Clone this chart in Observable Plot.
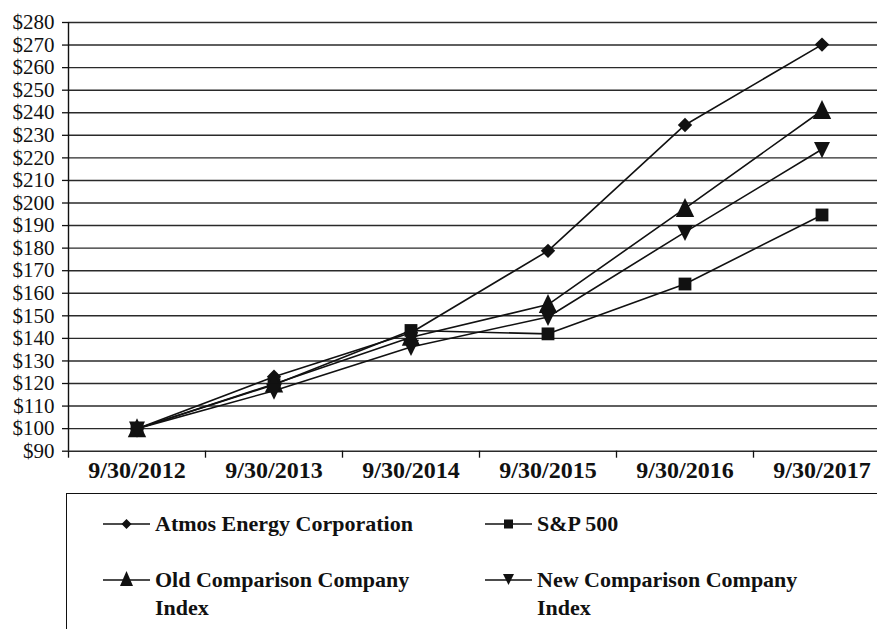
<!DOCTYPE html>
<html>
<head>
<meta charset="utf-8">
<script src="https://cdn.jsdelivr.net/npm/d3@7"></script>
<script src="https://cdn.jsdelivr.net/npm/@observablehq/plot@0.6"></script>
<style>
  html, body { margin: 0; padding: 0; background: #fff; }
  #wrap { position: relative; width: 877px; height: 629px; overflow: hidden; font-family: "Liberation Serif", "DejaVu Serif", serif; }
  #title { position: absolute; left: 0; width: 877px; top: -17px; text-align: center; font-weight: bold; font-size: 23px; line-height: 23px; padding-left: 10px; box-sizing: border-box; }
  #chart { position: absolute; left: 0; top: 0; }
  #chart svg text { font-family: "Liberation Serif", "DejaVu Serif", serif; }
  #legend { position: absolute; left: 66px; top: 493px; width: 830px; height: 160px; border: 1.5px solid #111; box-sizing: border-box; }
  .item { position: absolute; display: flex; align-items: flex-start; font-weight: bold; font-size: 22px; line-height: 28px; color: #111; }
  .item svg { flex: none; margin-right: 5px; margin-top: 0px; }
</style>
</head>
<body>
<div id="wrap">
  <div id="title">and Comparison Company Index</div>
  <div id="chart"></div>
  <div id="legend"></div>
</div>
<script>
// ---- data ----
const years = ["9/30/2012", "9/30/2013", "9/30/2014", "9/30/2015", "9/30/2016", "9/30/2017"];
const seriesNames = ["Atmos Energy Corporation", "S&P 500", "Old Comparison Company Index", "New Comparison Company Index"];
const atmos = [100, 123, 142.5, 178.8, 234.6, 270.2];
const sp500 = [100, 119.5, 143.5, 142, 164.1, 194.7];
const oldIndex = [100, 119.8, 140.5, 155, 197.6, 241];
const newIndex = [100, 116.8, 136.2, 149.5, 187.1, 223.8];
const yTicks = [90, 100, 110, 120, 130, 140, 150, 160, 170, 180, 190, 200, 210, 220, 230, 240, 250, 260, 270, 280];

const seriesValues = [atmos, sp500, oldIndex, newIndex];
const data = seriesNames.flatMap((s, k) => seriesValues[k].map((v, i) => ({series: s, i, year: years[i], value: v})));

// ---- custom symbols (k = radius passed by Plot) ----
function poly(ctx, pts) { ctx.moveTo(pts[0][0], pts[0][1]); for (let j = 1; j < pts.length; j++) ctx.lineTo(pts[j][0], pts[j][1]); ctx.closePath(); }
const rad = size => Math.sqrt(size / Math.PI);
const symDiamond = {draw(ctx, size) { const k = rad(size) * 0.72; poly(ctx, [[0, -k], [k, 0], [0, k], [-k, 0]]); }};
const symSquare = {draw(ctx, size) { const k = rad(size) * 0.64; poly(ctx, [[-k, -k], [k, -k], [k, k], [-k, k]]); }};
const symTriUp = {draw(ctx, size) { const k = rad(size); poly(ctx, [[0, -1.05 * k], [0.92 * k, 0.85 * k], [-0.92 * k, 0.85 * k]]); }};
const symTriDown = {draw(ctx, size) { const k = rad(size); poly(ctx, [[-0.8 * k, -0.72 * k], [0.8 * k, -0.72 * k], [0, 0.9 * k]]); }};
const symbols = [symDiamond, symSquare, symTriUp, symTriDown];

const boundaries = years.map((_, i) => i - 0.5);
const centers = years.map((_, i) => i);

const chart = Plot.plot({
  width: 877,
  height: 490,
  marginLeft: 68,
  marginTop: 22,
  marginBottom: 39.3,
  marginRight: -13,
  style: {fontFamily: "'Liberation Serif', 'DejaVu Serif', serif", color: "#111", background: "#fff"},
  x: {domain: [-0.5, 5.5]},
  y: {domain: [90, 280]},
  symbol: {domain: seriesNames, range: symbols},
  marks: [
    Plot.ruleY(yTicks, {stroke: "#2a2a2a", strokeWidth: 1.4}),
    Plot.axisY(yTicks, {tickSize: 6, tickPadding: 8, fontSize: 21, tickFormat: d => "$" + d, label: null, stroke: "#111", strokeWidth: 1.3}),
    Plot.ruleX([-0.5], {y1: 90, y2: 280, stroke: "#111", strokeWidth: 1.4}),
    Plot.axisX(boundaries, {tickSize: 7, tickFormat: () => "", label: null, stroke: "#111", strokeWidth: 1.3}),
    Plot.axisX(centers, {tickSize: 0, tickPadding: 10, fontSize: 24, fontWeight: "bold", tickFormat: i => years[i], label: null}),
    Plot.line(data, {x: "i", y: "value", z: "series", stroke: "#111", strokeWidth: 1.6}),
    Plot.dot(data, {x: "i", y: "value", symbol: "series", fill: "#111", stroke: "none", r: 10})
  ]
});
document.getElementById("chart").appendChild(chart);

// ---- legend ----
const legendPos = [
  {left: 36, top: 16},
  {left: 418, top: 16},
  {left: 36, top: 72},
  {left: 418, top: 72}
];
const legendMarker = [
  '<polygon points="23.5,9 28.5,14 23.5,19 18.5,14"/>',
  '<rect x="19" y="9.5" width="9" height="9"/>',
  '<polygon points="23.5,5 30,20 17,20"/>',
  '<polygon points="18,8 29,8 23.5,19"/>'
];
const legend = document.getElementById("legend");
seriesNames.forEach((name, k) => {
  const d = document.createElement("div");
  d.className = "item";
  d.style.left = legendPos[k].left + "px";
  d.style.top = legendPos[k].top + "px";
  d.style.width = "330px";
  d.innerHTML = '<svg width="47" height="28" viewBox="0 0 47 28"><line x1="0" y1="14" x2="47" y2="14" stroke="#111" stroke-width="1.6"/><g fill="#111">' + legendMarker[k] + '</g></svg><span>' + name.replace("&", "&amp;") + '</span>';
  legend.appendChild(d);
});
</script>
</body>
</html>
